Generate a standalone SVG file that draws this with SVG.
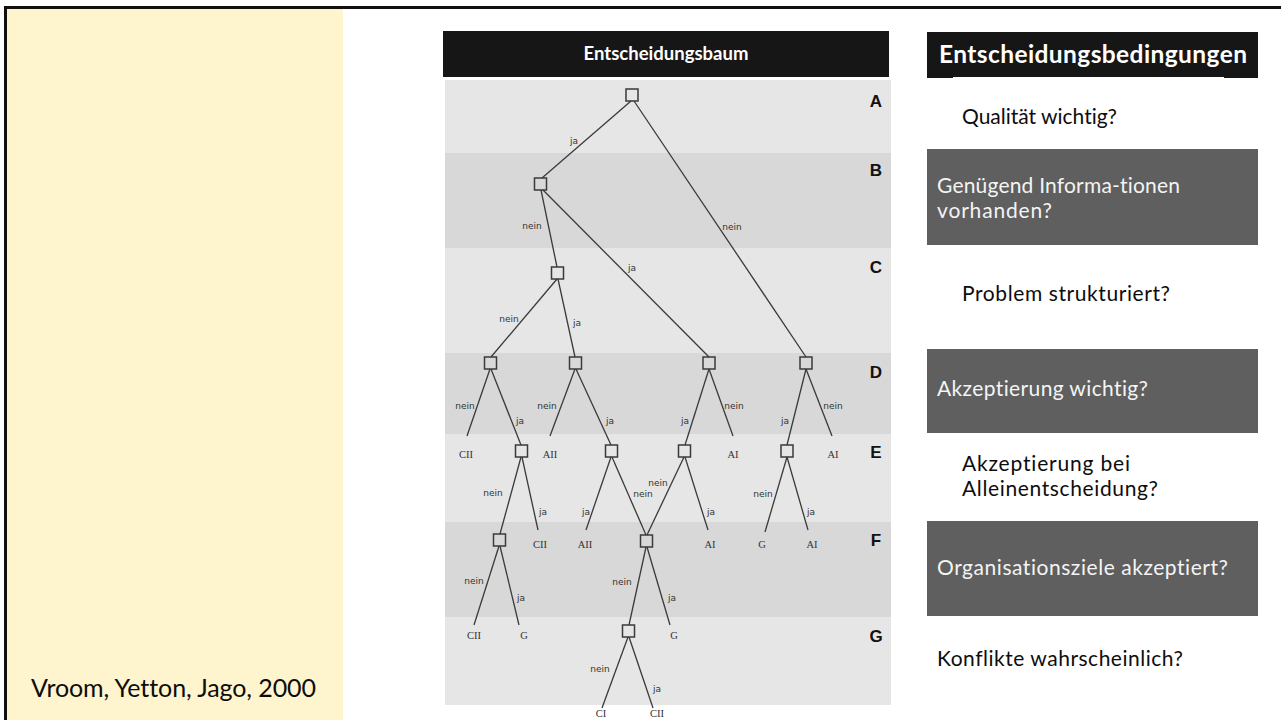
<svg xmlns="http://www.w3.org/2000/svg" width="1281" height="720" viewBox="0 0 1281 720">
  <style>
    text { font-variant-ligatures: none; }
    .frame { fill: none; stroke: #111; stroke-width: 3; }
    .hdr { fill: #161616; }
    .hdrtxt { font-family: Lato, "Open Sans", sans-serif; font-weight: bold; fill: #ffffff; }
    .bandL { fill: #e6e6e6; }
    .bandD { fill: #d8d8d8; }
    .row { font-family: "Liberation Sans", Arial, sans-serif; font-weight: bold; font-size: 17px; fill: #111; text-anchor: middle; }
    .node rect { fill: none; stroke: #3a3a3a; stroke-width: 1.5; }
    .edge { stroke: #3a3a3a; stroke-width: 1.3; fill: none; }
    .lbl { font-family: "DejaVu Sans", sans-serif; font-size: 9px; fill: #333; text-anchor: middle; }
    .leaf { font-family: "Liberation Serif", "Times New Roman", serif; font-size: 10.5px; fill: #333; text-anchor: middle; }
    .cond { font-family: Lato, "Open Sans", sans-serif; font-size: 21px; fill: #0d0d0d; }
    .cite { font-family: Lato, "Open Sans", sans-serif; font-size: 25px; fill: #0d0d0d; }
    .condbox { fill: #5f5f5f; }
    .condw { font-family: Lato, "Open Sans", sans-serif; font-size: 21px; fill: #f4f4f4; }
  </style>

  <!-- page background and frame -->
  <rect x="0" y="0" width="1281" height="720" fill="#ffffff"/>
  <rect x="7" y="9" width="336" height="711" fill="#fef4cd"/>
  <path class="frame" d="M5.5,720 V7.5 H1281"/>
  <text x="31" y="697" class="cite" textLength="285">Vroom, Yetton, Jago, 2000</text>

  <!-- decision tree panel -->
  <rect class="hdr" x="443" y="31" width="446" height="46"/>
  <text class="hdrtxt" x="666" y="60" font-size="18.5" text-anchor="middle">Entscheidungsbaum</text>

  <g id="bands">
    <rect class="bandL" x="445" y="80" width="446" height="73"/>
    <rect class="bandD" x="445" y="153" width="446" height="95"/>
    <rect class="bandL" x="445" y="248" width="446" height="105"/>
    <rect class="bandD" x="445" y="353" width="446" height="81"/>
    <rect class="bandL" x="445" y="434" width="446" height="88"/>
    <rect class="bandD" x="445" y="522" width="446" height="95"/>
    <rect class="bandL" x="445" y="617" width="446" height="88"/>
  </g>

  <g id="row-letters">
    <text class="row" x="876" y="107">A</text>
    <text class="row" x="876" y="176">B</text>
    <text class="row" x="876" y="273">C</text>
    <text class="row" x="876" y="378">D</text>
    <text class="row" x="876" y="458">E</text>
    <text class="row" x="876" y="546">F</text>
    <text class="row" x="876" y="642">G</text>
  </g>

  <g id="connectors">
    <line class="edge" x1="631" y1="101" x2="542" y2="178"/>
    <line class="edge" x1="634" y1="101" x2="806" y2="357"/>
    <line class="edge" x1="541" y1="190" x2="557" y2="267"/>
    <line class="edge" x1="543" y1="190" x2="709" y2="357"/>
    <line class="edge" x1="557" y1="279" x2="491" y2="357"/>
    <line class="edge" x1="558" y1="279" x2="575" y2="357"/>
    <line class="edge" x1="490" y1="369" x2="467" y2="436"/>
    <line class="edge" x1="491" y1="369" x2="521" y2="445"/>
    <line class="edge" x1="575" y1="369" x2="550" y2="436"/>
    <line class="edge" x1="576" y1="369" x2="611" y2="445"/>
    <line class="edge" x1="709" y1="369" x2="685" y2="445"/>
    <line class="edge" x1="709" y1="369" x2="733" y2="436"/>
    <line class="edge" x1="806" y1="369" x2="787" y2="445"/>
    <line class="edge" x1="806" y1="369" x2="832" y2="436"/>
    <line class="edge" x1="521" y1="457" x2="500" y2="534"/>
    <line class="edge" x1="522" y1="457" x2="538" y2="530"/>
    <line class="edge" x1="611" y1="457" x2="586" y2="530"/>
    <line class="edge" x1="612" y1="457" x2="646" y2="535"/>
    <line class="edge" x1="684" y1="457" x2="647" y2="535"/>
    <line class="edge" x1="685" y1="457" x2="708" y2="530"/>
    <line class="edge" x1="787" y1="457" x2="765" y2="532"/>
    <line class="edge" x1="787" y1="457" x2="808" y2="530"/>
    <line class="edge" x1="499" y1="546" x2="474" y2="625"/>
    <line class="edge" x1="500" y1="546" x2="519" y2="625"/>
    <line class="edge" x1="646" y1="547" x2="629" y2="625"/>
    <line class="edge" x1="647" y1="547" x2="670" y2="625"/>
    <line class="edge" x1="628" y1="637" x2="602" y2="708"/>
    <line class="edge" x1="629" y1="637" x2="653" y2="708"/>

    <g id="edge-labels">
      <text class="lbl" x="574" y="144">ja</text>
      <text class="lbl" x="732" y="230">nein</text>
      <text class="lbl" x="532" y="229">nein</text>
      <text class="lbl" x="632" y="271">ja</text>
      <text class="lbl" x="509" y="322">nein</text>
      <text class="lbl" x="577" y="326">ja</text>
      <text class="lbl" x="465" y="409">nein</text>
      <text class="lbl" x="520" y="424">ja</text>
      <text class="lbl" x="547" y="409">nein</text>
      <text class="lbl" x="610" y="424">ja</text>
      <text class="lbl" x="685" y="424">ja</text>
      <text class="lbl" x="734" y="409">nein</text>
      <text class="lbl" x="785" y="424">ja</text>
      <text class="lbl" x="833" y="409">nein</text>
      <text class="lbl" x="493" y="496">nein</text>
      <text class="lbl" x="543" y="515">ja</text>
      <text class="lbl" x="586" y="515">ja</text>
      <text class="lbl" x="643" y="497">nein</text>
      <text class="lbl" x="658" y="486">nein</text>
      <text class="lbl" x="711" y="515">ja</text>
      <text class="lbl" x="763" y="497">nein</text>
      <text class="lbl" x="811" y="515">ja</text>
      <text class="lbl" x="474" y="584">nein</text>
      <text class="lbl" x="521" y="601">ja</text>
      <text class="lbl" x="622" y="585">nein</text>
      <text class="lbl" x="672" y="601">ja</text>
      <text class="lbl" x="600" y="672">nein</text>
      <text class="lbl" x="657" y="692">ja</text>
    </g>
  </g>

  <!-- decision nodes -->
  <g id="node-A" class="node"><rect x="626" y="89" width="12" height="12"/></g>
  <g id="node-B" class="node"><rect x="534.5" y="178" width="12" height="12"/></g>
  <g id="node-C" class="node"><rect x="551.5" y="267" width="12" height="12"/></g>
  <g id="node-D1" class="node"><rect x="484.5" y="357" width="12" height="12"/></g>
  <g id="node-D2" class="node"><rect x="569.5" y="357" width="12" height="12"/></g>
  <g id="node-D3" class="node"><rect x="703" y="357" width="12" height="12"/></g>
  <g id="node-D4" class="node"><rect x="800" y="357" width="12" height="12"/></g>
  <g id="node-E1" class="node"><rect x="515.5" y="445" width="12" height="12"/></g>
  <g id="node-E2" class="node"><rect x="605.5" y="445" width="12" height="12"/></g>
  <g id="node-E3" class="node"><rect x="678.5" y="445" width="12" height="12"/></g>
  <g id="node-E4" class="node"><rect x="781" y="445" width="12" height="12"/></g>
  <g id="node-F1" class="node"><rect x="493.5" y="534" width="12" height="12"/></g>
  <g id="node-F2" class="node"><rect x="640.5" y="535" width="12" height="12"/></g>
  <g id="node-G1" class="node"><rect x="622.5" y="625" width="12" height="12"/></g>

  <!-- outcomes -->
  <g id="leaves">
    <text class="leaf" x="466" y="458">CII</text>
    <text class="leaf" x="550" y="458">AII</text>
    <text class="leaf" x="733" y="458">AI</text>
    <text class="leaf" x="833" y="458">AI</text>
    <text class="leaf" x="540" y="548">CII</text>
    <text class="leaf" x="585" y="548">AII</text>
    <text class="leaf" x="710" y="548">AI</text>
    <text class="leaf" x="762" y="548">G</text>
    <text class="leaf" x="812" y="548">AI</text>
    <text class="leaf" x="474" y="639">CII</text>
    <text class="leaf" x="524" y="639">G</text>
    <text class="leaf" x="674" y="639">G</text>
    <text class="leaf" x="601" y="717">CI</text>
    <text class="leaf" x="657" y="717">CII</text>
  </g>

  <!-- decision conditions -->
  <rect class="hdr" x="927" y="32" width="331" height="46"/>
  <rect x="953" y="77" width="271" height="2" fill="#ffffff"/>
  <text class="hdrtxt" x="939" y="63" font-size="24.5" textLength="308">Entscheidungsbedingungen</text>

  <g id="cond-A"><text class="cond" x="962" y="124" textLength="155">Qualität wichtig?</text></g>
  <g id="cond-B">
    <rect class="condbox" x="927" y="149" width="331" height="96"/>
    <text class="condw" x="937" y="193" textLength="243">Genügend Informa-tionen</text>
    <text class="condw" x="937" y="218" textLength="115">vorhanden?</text>
  </g>
  <g id="cond-C"><text class="cond" x="962" y="301" textLength="208">Problem strukturiert?</text></g>
  <g id="cond-D">
    <rect class="condbox" x="927" y="349" width="331" height="84"/>
    <text class="condw" x="937" y="396" textLength="211">Akzeptierung wichtig?</text>
  </g>
  <g id="cond-E">
    <text class="cond" x="962" y="471" textLength="168">Akzeptierung bei</text>
    <text class="cond" x="962" y="496" textLength="196">Alleinentscheidung?</text>
  </g>
  <g id="cond-F">
    <rect class="condbox" x="927" y="521" width="331" height="95"/>
    <text class="condw" x="937" y="575" textLength="291">Organisationsziele akzeptiert?</text>
  </g>
  <g id="cond-G"><text class="cond" x="937" y="666" textLength="246">Konflikte wahrscheinlich?</text></g>
</svg>
